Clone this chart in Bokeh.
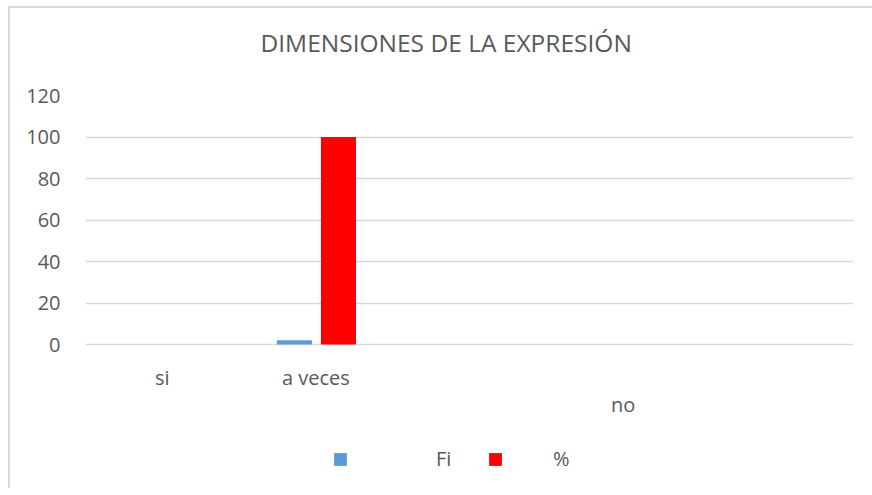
from bokeh.plotting import figure
from bokeh.models import (ColumnDataSource, FixedTicker, Legend, LegendItem,
                          Range1d, Title)
from bokeh.core.properties import value
from bokeh.transform import dodge
from bokeh.embed import file_html
from bokeh.resources import INLINE

# ---- data ----
title_text = "DIMENSIONES DE LA EXPRESIÓN"
categories = ["si", "a veces", "", "no", ""]
fi_values = [0, 2, 0, 0, 0]
pct_values = [0, 100, 0, 0, 0]
series_names = ["Fi", "%"]
y_ticks = [0, 20, 40, 60, 80, 100, 120]

TEXT = "#595959"
GRID = "#d9d9d9"
FONT = "Open Sans"

# the reference shows "no" staggered onto a second label row
second_row = {"no"}
centers = [i + 0.5 for i in range(len(categories))]
label_dy = [60 if c in second_row else 33 for c in categories]
src = ColumnDataSource(dict(x=centers, fi=fi_values, pct=pct_values,
                            cat=categories, zero=[0] * len(categories),
                            dy=label_dy))

PX_PER_UNIT = 249 / 120.0
BELOW_PX = 130
p = figure(frame_width=768, frame_height=249 + BELOW_PX, output_backend="svg",
           toolbar_location=None,
           x_range=Range1d(0, len(categories)),
           y_range=Range1d(-BELOW_PX / PX_PER_UNIT, 120),
           x_axis_location=None,
           min_border_left=75, min_border_right=20, min_border_top=87,
           min_border_bottom=14)
p.styles = {"border-top": f"2px solid {GRID}", "border-left": f"2px solid {GRID}",
            "margin-left": "8px", "margin-top": "6px"}
p.outline_line_color = None
p.background_fill_color = "white"
p.border_fill_color = "white"

# title (a thin spacer title sits between it and the plot area)
p.title.text = title_text
p.title.align = "left"
p.title.offset = 175
p.title.text_font = FONT
p.title.text_font_size = "24.5px"
p.title.text_font_style = "normal"
p.title.text_color = TEXT
p.title.standoff = 4
spacer = Title(text=" ", text_font_size="1px", standoff=32)
p.above = [spacer] + list(p.above)

bw = 0.228
r_fi = p.vbar(x=dodge("x", -0.14, range=p.x_range), top="fi", width=bw,
              source=src, fill_color="#5b9bd5", line_color=None)
r_pct = p.vbar(x=dodge("x", 0.147, range=p.x_range), top="pct", width=bw,
               source=src, fill_color="#ff0000", line_color=None)

# category labels
p.text(x="x", y="zero", text="cat", y_offset="dy", source=src,
       text_align="center", text_baseline="alphabetic",
       text_font=value(FONT), text_font_size="20px", text_color=TEXT)

# y axis
p.yaxis.ticker = FixedTicker(ticks=y_ticks)
p.yaxis.axis_line_color = None
p.yaxis.major_tick_line_color = None
p.yaxis.minor_tick_line_color = None
p.yaxis.major_tick_out = 0
p.yaxis.major_tick_in = 0
p.yaxis.major_label_standoff = 25
p.yaxis.major_label_text_font = FONT
p.yaxis.major_label_text_font_size = "20px"
p.yaxis.major_label_text_color = TEXT

p.ygrid.ticker = FixedTicker(ticks=y_ticks)
p.ygrid.grid_line_color = GRID
p.ygrid.grid_line_width = 1.5
p.xgrid.grid_line_color = None

# legends
common = dict(glyph_width=16, glyph_height=16, label_height=13, padding=0,
              margin=0, border_line_color=None, background_fill_alpha=0,
              label_text_font=FONT, label_text_font_size="20px",
              label_text_color=TEXT)
leg1 = Legend(items=[LegendItem(label=series_names[0], renderers=[r_fi])],
              location=(247, 2), label_standoff=88, **common)
leg2 = Legend(items=[LegendItem(label=series_names[1], renderers=[r_pct])],
              location=(402, 2), label_standoff=50, **common)
p.add_layout(leg1, "center")
p.add_layout(leg2, "center")

open("out.html", "w").write(file_html(p, INLINE))
